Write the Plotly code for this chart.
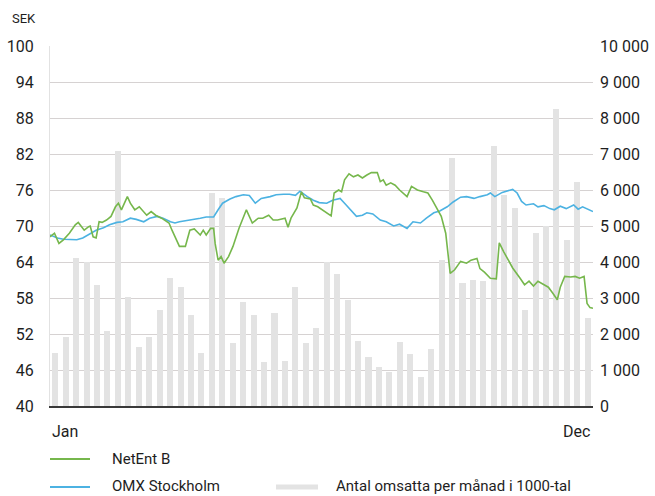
import plotly.graph_objects as go

# ---- data ----
weeks = list(range(1, 53))
volume = [1460, 1930, 4100, 4010, 3360, 2090, 7070, 3020, 1630, 1930,
          2670, 3560, 3310, 2530, 1460, 5910, 5770, 1740, 2900, 2530,
          1230, 2570, 1250, 3310, 1760, 2160, 4010, 3670, 2940, 1810,
          1370, 1090, 950, 1790, 1440, 810, 1570, 4050, 6890, 3410,
          3510, 3460, 7230, 5860, 5500, 2670, 4800, 5000, 8240, 4600,
          6230, 2440]

netent_day = [0, 3, 6, 9, 13, 17, 19, 21, 23, 26, 27, 29, 31, 33, 35, 38, 41, 44, 46, 48,
              52, 54, 57, 60, 63, 65, 68, 71, 75, 80, 82, 85, 87, 91, 94, 97, 101, 103, 105, 108,
              110, 111, 113, 115, 117, 120, 123, 127, 130, 132, 136, 140, 143, 147, 150, 153, 158, 160, 162, 166,
              169, 171, 175, 177, 180, 185, 189, 191, 194, 196, 198, 201, 204, 207, 210, 213, 216, 220, 222, 224,
              226, 229, 232, 235, 240, 243, 247, 251, 254, 257, 260, 263, 266, 268, 269, 272, 276, 280, 283, 287,
              289, 292, 296, 300, 302, 305, 308, 311, 316, 319, 322, 325, 328, 332, 335, 338, 341, 343, 346, 350,
              353, 356, 359, 361, 363, 365]
netent = [68.2, 68.8, 67.1, 67.7, 68.8, 70.2, 70.6, 69.9, 69.3, 69.9, 70.0, 68.2, 68.0, 70.7, 70.6, 71.0, 71.6, 73.2, 73.8, 72.7,
          74.9, 73.8, 72.7, 73.2, 72.4, 71.8, 72.4, 71.8, 71.3, 70.5, 69.3, 67.7, 66.6, 66.6, 69.3, 69.5, 68.5, 69.3, 68.5, 69.6,
          69.6, 67.1, 64.3, 64.9, 63.8, 64.9, 66.6, 69.6, 71.6, 72.7, 70.5, 71.3, 71.3, 71.8, 71.0, 71.0, 71.3, 69.8, 71.3, 73.0,
          75.7, 74.7, 74.5, 73.5, 73.2, 72.3, 71.7, 75.5, 76.0, 75.7, 77.7, 78.7, 78.2, 78.5, 78.0, 78.5, 78.9, 78.9, 77.4, 77.7,
          76.8, 77.2, 76.8, 76.0, 74.9, 76.6, 76.0, 75.7, 75.5, 74.3, 73.0, 71.6, 68.8, 63.8, 62.1, 62.7, 64.1, 63.8, 64.3, 64.6,
          62.9, 62.3, 61.3, 61.2, 67.2, 65.7, 64.3, 63.0, 61.3, 60.2, 60.8, 60.0, 60.8, 60.2, 59.8, 58.8, 57.7, 59.8, 61.6, 61.5,
          61.6, 61.3, 61.6, 57.1, 56.4, 56.3]

omx_day = [0, 5, 9, 13, 18, 22, 27, 31, 36, 40, 45, 49, 54, 58, 63, 67, 72, 76, 81, 84,
           87, 92, 96, 101, 105, 110, 113, 116, 121, 125, 130, 134, 138, 142, 148, 152, 157, 161, 165, 168,
           173, 177, 181, 186, 190, 195, 198, 203, 206, 210, 213, 217, 222, 226, 231, 235, 240, 244, 249, 253,
           258, 262, 267, 271, 276, 280, 285, 289, 294, 296, 299, 304, 308, 311, 314, 317, 320, 325, 328, 332,
           336, 339, 343, 347, 352, 355, 358, 362, 365]
omx = [68.5, 68.0, 67.8, 67.7, 67.7, 68.0, 68.8, 69.3, 69.7, 70.2, 70.6, 70.7, 71.3, 71.1, 70.7, 71.3, 71.6, 71.3, 70.7, 70.5,
       70.7, 70.9, 71.0, 71.3, 71.5, 71.5, 72.7, 73.8, 74.5, 74.9, 75.2, 75.1, 73.8, 74.6, 74.9, 75.2, 75.3, 75.3, 75.1, 75.8,
       74.9, 74.3, 73.9, 73.8, 74.3, 74.6, 73.8, 72.4, 71.6, 71.8, 72.2, 72.0, 71.0, 70.7, 70.0, 70.3, 69.6, 70.7, 70.5, 71.3,
       72.2, 72.5, 73.2, 74.0, 74.8, 74.9, 74.6, 74.9, 75.2, 75.5, 74.9, 75.6, 75.9, 76.1, 75.5, 74.1, 73.5, 73.7, 73.2, 73.4,
       72.9, 72.7, 73.3, 72.9, 73.5, 72.8, 73.2, 72.7, 72.4]

sek_ticks = [40, 46, 52, 58, 64, 70, 76, 82, 88, 94, 100]
vol_ticks = [0, 1000, 2000, 3000, 4000, 5000, 6000, 7000, 8000, 9000, 10000]
vol_labels = ["0", "1 000", "2 000", "3 000", "4 000", "5 000", "6 000", "7 000", "8 000", "9 000", "10 000"]

# ---- layout helpers (pixel -> paper) ----
W, H = 655, 496
L, R, T, B = 50, 593, 46, 406
def px(x):
    return (x - L) / (R - L)
def py(y):
    return (B - y) / (B - T)

DAYS = 365
week_len = DAYS / len(weeks)
bar_x = [(w - 0.5) * week_len for w in weeks]

GREEN = "#76b74c"
BLUE = "#4cb2e2"
BARC = "#e3e3e3"
TXT = "#1e1e1e"
FONT = "Roboto"

fig = go.Figure()
fig.add_trace(go.Bar(x=bar_x, y=volume, width=week_len * 0.58, marker=dict(color=BARC, line=dict(width=0)),
                     yaxis="y", name="Antal omsatta per månad i 1000-tal", showlegend=False, hoverinfo="skip"))
fig.add_trace(go.Scatter(x=omx_day, y=omx, mode="lines", line=dict(color=BLUE, width=1.6),
                         yaxis="y2", name="OMX Stockholm", showlegend=False, hoverinfo="skip"))
fig.add_trace(go.Scatter(x=netent_day, y=netent, mode="lines", line=dict(color=GREEN, width=1.6),
                         yaxis="y2", name="NetEnt B", showlegend=False, hoverinfo="skip"))

fig.update_layout(
    width=W, height=H,
    margin=dict(l=L, r=W - R, t=T, b=H - B, autoexpand=False),
    paper_bgcolor="white", plot_bgcolor="white",
    font=dict(family=FONT, color=TXT, size=16),
    bargap=0,
    xaxis=dict(range=[0, DAYS], showgrid=False, zeroline=False, showticklabels=False, automargin=False,
               showline=True, linecolor="#3a3a3a", linewidth=2, ticks=""),
    yaxis=dict(range=[0, 10000], side="right", tickvals=vol_ticks, ticktext=vol_labels, automargin=False,
               showgrid=True, gridcolor="#d6d2d2", gridwidth=1, zeroline=False,
               ticks="", ticklabelstandoff=6, tickfont=dict(size=16, family=FONT, color=TXT)),
    yaxis2=dict(range=[40, 100], overlaying="y", side="left", tickvals=sek_ticks, automargin=False,
                showgrid=False, zeroline=False, showline=True, linecolor="#e2e2e2", linewidth=1,
                ticks="", ticklabelstandoff=12, tickfont=dict(size=16, family=FONT, color=TXT)),
)

annotations = [
    dict(text="SEK", x=px(10), y=py(18), xanchor="left", yanchor="middle", font=dict(size=13)),
    dict(text="Jan", x=px(50), y=py(431), xanchor="left", yanchor="middle", font=dict(size=16)),
    dict(text="Dec", x=px(592), y=py(431), xanchor="right", yanchor="middle", font=dict(size=16)),
    dict(text="NetEnt B", x=px(110), y=py(459), xanchor="left", yanchor="middle", font=dict(size=15)),
    dict(text="OMX Stockholm", x=px(110), y=py(486), xanchor="left", yanchor="middle", font=dict(size=15)),
    dict(text="Antal omsatta per månad i 1000-tal", x=px(334), y=py(486), xanchor="left", yanchor="middle",
         font=dict(size=15)),
]
for a in annotations:
    a.update(xref="paper", yref="paper", showarrow=False)
fig.update_layout(annotations=annotations)

shapes = [
    dict(type="line", x0=px(50), x1=px(90), y0=py(459), y1=py(459), line=dict(color=GREEN, width=2)),
    dict(type="line", x0=px(50), x1=px(90), y0=py(487), y1=py(487), line=dict(color=BLUE, width=2)),
    dict(type="line", x0=px(276), x1=px(318), y0=py(487), y1=py(487), line=dict(color=BARC, width=5)),
]
for s in shapes:
    s.update(xref="paper", yref="paper")
fig.update_layout(shapes=shapes)

fig.write_html("out.html", config={"displayModeBar": False, "staticPlot": True},
               post_script="document.body.style.margin='0';document.body.style.overflow='hidden';")
